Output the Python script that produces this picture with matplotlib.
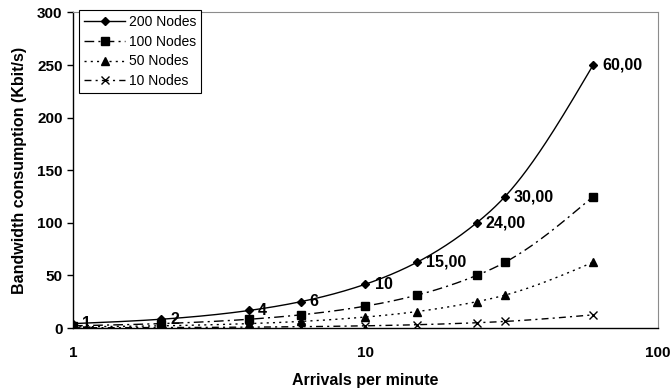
import numpy as np
import matplotlib
matplotlib.use("Agg")
import matplotlib.pyplot as plt

plt.rcParams['font.family'] = ['Liberation Sans', 'DejaVu Sans']

# Arrival rates (per minute) and bandwidth per network size (Kbit/s)
arrivals = [1, 2, 4, 6, 10, 15, 24, 30, 60]
bw_200 = [4.17, 8.33, 16.67, 25.0, 41.67, 62.5, 100.0, 125.0, 250.0]
bw_100 = [2.08, 4.17, 8.33, 12.5, 20.83, 31.25, 50.0, 62.5, 125.0]
bw_50 = [1.04, 2.08, 4.17, 6.25, 10.42, 15.63, 25.0, 31.25, 62.5]
bw_10 = [0.21, 0.42, 0.83, 1.25, 2.08, 3.13, 5.0, 6.25, 12.5]
point_labels = ["1", "2", "4", "6", "10", "15,00", "24,00", "30,00", "60,00"]
series_names = ["200 Nodes", "100 Nodes", "50 Nodes", "10 Nodes"]


def smooth(x, y, n=400):
    """Natural cubic spline through the points, in log-x space."""
    u = np.log10(np.asarray(x, float))
    v = np.asarray(y, float)
    k = len(u)
    h = np.diff(u)
    A = np.zeros((k, k))
    b = np.zeros(k)
    A[0, 0] = A[-1, -1] = 1.0
    for i in range(1, k - 1):
        A[i, i - 1] = h[i - 1]
        A[i, i] = 2 * (h[i - 1] + h[i])
        A[i, i + 1] = h[i]
        b[i] = 6 * ((v[i + 1] - v[i]) / h[i] - (v[i] - v[i - 1]) / h[i - 1])
    m = np.linalg.solve(A, b)
    uu = np.linspace(u[0], u[-1], n)
    idx = np.clip(np.searchsorted(u, uu) - 1, 0, k - 2)
    t0, t1 = u[idx], u[idx + 1]
    hh = t1 - t0
    a = (t1 - uu) / hh
    c = (uu - t0) / hh
    vv = (a * v[idx] + c * v[idx + 1]
          + ((a ** 3 - a) * m[idx] + (c ** 3 - c) * m[idx + 1]) * hh ** 2 / 6)
    return 10 ** uu, vv


fig = plt.figure(figsize=(6.71, 3.91), dpi=100)
ax = fig.add_axes([0.1088, 0.1611, 0.8718, 0.8070])

styles = [
    dict(ls='-', marker='D', ms=4.5),
    dict(ls=(0, (7, 3, 1.5, 3)), marker='s', ms=5.5),
    dict(ls=(0, (1.5, 3)), marker='^', ms=6),
    dict(ls=(0, (5, 3, 1.5, 3)), marker='x', ms=6),
]
all_series = [bw_200, bw_100, bw_50, bw_10]

for name, vals, st in zip(series_names, all_series, styles):
    sx, sy = smooth(arrivals, vals)
    ax.plot(sx, sy, color='black', lw=1.0, ls=st['ls'], zorder=3)
    ax.plot(arrivals, vals, ls='none', marker=st['marker'], ms=st['ms'],
            color='black', mew=1.0, zorder=4)
    ax.plot([], [], color='black', lw=1.0, ls=st['ls'], marker=st['marker'],
            ms=st['ms'], mew=1.0, label=name)

for xv, yv, lab in zip(arrivals, bw_200, point_labels):
    ax.annotate(lab, (xv, yv), xytext=(6.5, 0), textcoords='offset points',
                ha='left', va='center', fontsize=11.5, fontweight='bold', zorder=5)

ax.set_xscale('log')
ax.set_xlim(1, 100)
ax.set_ylim(0, 300)
ax.set_yticks(range(0, 301, 50))
ax.set_xticks([1, 10, 100])
ax.set_xticklabels(['1', '10', '100'])
ax.xaxis.set_minor_locator(matplotlib.ticker.NullLocator())
ax.tick_params(axis='x', length=0, pad=13, labelsize=11)
ax.tick_params(axis='y', length=4, width=1, direction='out', pad=3.5, labelsize=11)
for lab in ax.get_xticklabels() + ax.get_yticklabels():
    lab.set_fontweight('bold')

for side in ['left', 'bottom']:
    ax.spines[side].set_color('black')
    ax.spines[side].set_linewidth(1.0)
for side in ['top', 'right']:
    ax.spines[side].set_color('#8c8c8c')
    ax.spines[side].set_linewidth(0.8)

ax.set_xlabel('Arrivals per minute', fontsize=11.5, fontweight='bold', labelpad=9)
ax.set_ylabel('Bandwidth consumption (Kbit/s)', fontsize=11.5, fontweight='bold', labelpad=7)

leg = ax.legend(loc='upper left', bbox_to_anchor=(0.01, 1.008), fontsize=10,
                frameon=True, fancybox=False, edgecolor='black', framealpha=1,
                handlelength=3.0, handletextpad=0.25, borderpad=0.35,
                labelspacing=0.42, borderaxespad=0)
leg.get_frame().set_linewidth(0.8)

fig.savefig('out.png', dpi=100)
